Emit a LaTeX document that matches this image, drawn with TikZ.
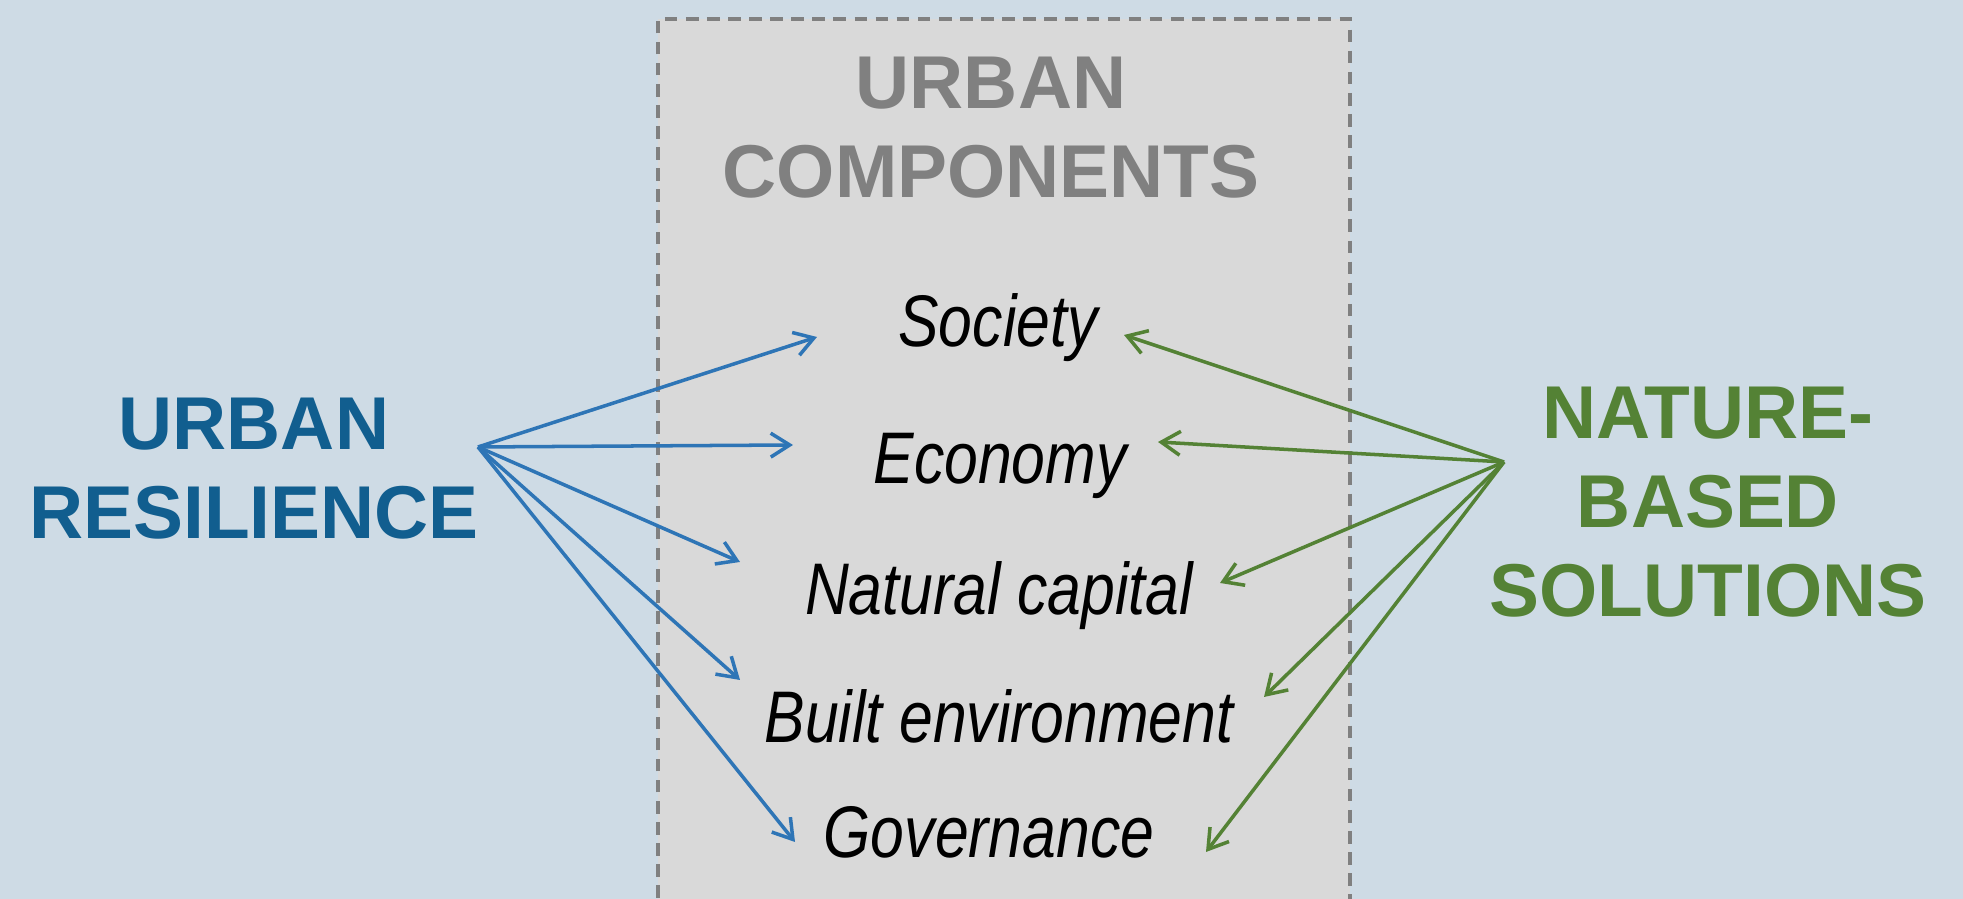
\documentclass[tikz,border=0pt]{standalone}
\usepackage{fontspec}
\setmainfont{Liberation Sans}
\newfontface\compfont{Liberation Sans Italic}[FakeStretch=0.83]
\usetikzlibrary{arrows.meta}
\definecolor{bgblue}{RGB}{206,219,229}
\definecolor{boxgray}{RGB}{217,217,217}
\definecolor{headgray}{RGB}{128,128,128}
\definecolor{resblue}{RGB}{17,94,143}
\definecolor{arrblue}{RGB}{46,117,182}
\definecolor{nbsgreen}{RGB}{84,130,53}
\tikzset{
  heading/.style={font=\fontsize{21.3}{25.3}\selectfont\bfseries, align=center, inner sep=0pt, anchor=north},
  component/.style={font=\fontsize{20.8}{24}\selectfont\compfont, inner sep=0pt, anchor=base},
  resarrow/.style={draw=arrblue, line width=1pt, -{Straight Barb[length=5.4pt,width=6.8pt]}},
  nbsarrow/.style={resarrow, draw=nbsgreen},
}
\begin{document}
\begin{tikzpicture}
	\useasboundingbox (0,0) rectangle (19.63,8.99);
	\fill[bgblue] (0,0) rectangle (19.63,8.99);
	\begin{scope}
		\clip (0,0) rectangle (19.63,8.99);
		\draw[headgray, fill=boxgray, line width=0.9pt, dash pattern=on 3.6pt off 2.4pt] (6.58,-0.2) rectangle (13.50,8.80);
	\end{scope}
	% headings
	\node[heading, text=headgray] (comp) at (9.91,8.43) {URBAN\\COMPONENTS};
	\node[heading, text=resblue] (res) at (2.54,5.02) {URBAN\\RESILIENCE};
	\node[heading, text=nbsgreen] (nbs) at (17.08,5.13) {NATURE-\\BASED\\SOLUTIONS};
	% components
	\node[component] (soc) at (9.98,5.52) {Society};
	\node[component] (eco) at (10.00,4.15) {Economy};
	\node[component] (nat) at (9.99,2.84) {Natural capital};
	\node[component] (blt) at (9.99,1.56) {Built environment};
	\node[component] (gov) at (9.89,0.41) {Governance};
	% arrow sources and tips
	\coordinate (resout) at (4.78,4.52);
	\coordinate (nbsout) at (15.04,4.37);
	\coordinate (socL) at (8.17,5.62);
	\coordinate (ecoL) at (7.93,4.54);
	\coordinate (natL) at (7.40,3.37);
	\coordinate (bltL) at (7.40,2.19);
	\coordinate (govL) at (7.95,0.57);
	\coordinate (socR) at (11.24,5.64);
	\coordinate (ecoR) at (11.58,4.57);
	\coordinate (natR) at (12.20,3.16);
	\coordinate (bltR) at (12.64,2.02);
	\coordinate (govR) at (12.06,0.47);
	\foreach \c in {socL,ecoL,natL,bltL,govL}
		\draw[resarrow] (resout) -- (\c);
	\foreach \c in {socR,ecoR,natR,bltR,govR}
		\draw[nbsarrow] (nbsout) -- (\c);
\end{tikzpicture}
\end{document}
